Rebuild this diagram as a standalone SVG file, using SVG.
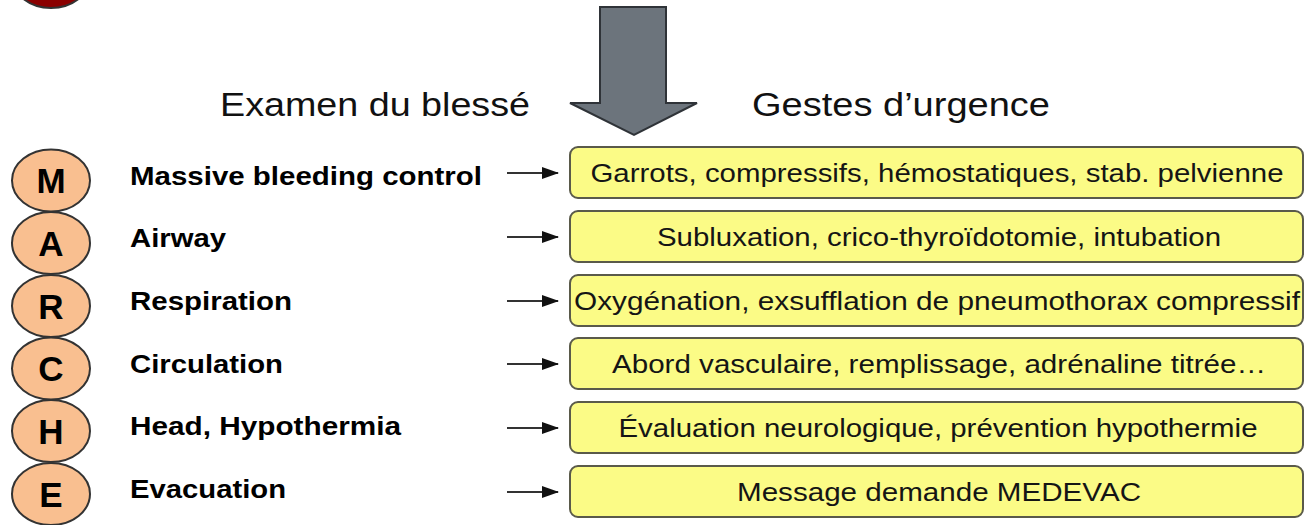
<svg xmlns="http://www.w3.org/2000/svg" width="1306" height="525" viewBox="0 0 1306 525">
<defs>
<style>
.lbl{font-family:"Liberation Sans",Arial,sans-serif;font-weight:bold;font-size:26px;fill:#000}
.let{font-family:"Liberation Sans",Arial,sans-serif;font-weight:bold;font-size:35px;fill:#000;text-anchor:middle}
.box{fill:#fbfb86;stroke:#5a5a4a;stroke-width:2}
.btx{font-family:"Liberation Sans",Arial,sans-serif;font-size:26px;fill:#151515;text-anchor:middle}
.hdr{font-family:"Liberation Sans",Arial,sans-serif;font-size:34px;fill:#111}
.circ{fill:#f9bf90;stroke:#333;stroke-width:2}
.conn{stroke:#333;stroke-width:2;fill:none;marker-end:url(#ah)}
</style>
<marker id="ah" viewBox="0 0 17 12" refX="16" refY="6" markerWidth="17" markerHeight="12" markerUnits="userSpaceOnUse" orient="auto"><path d="M0,0 L17,6 L0,12 z" fill="#111"/></marker>
</defs>
<rect width="1306" height="525" fill="#fff"/>
<g id="top-dot"><ellipse cx="51" cy="-23" rx="39" ry="31" fill="#8b0000" stroke="#333" stroke-width="2"/></g>
<g id="big-arrow"><path d="M600,7 L666,7 L666,103 L697,103 L634,135 L570,103 L600,103 Z" fill="#6c747c" stroke="#2f3338" stroke-width="2"/></g>
<g id="headers">
<text class="hdr" x="220" y="116" textLength="310" lengthAdjust="spacingAndGlyphs">Examen du blessé</text>
<text class="hdr" x="752" y="116" textLength="298" lengthAdjust="spacingAndGlyphs">Gestes d’urgence</text>
</g>
<g id="letters">
<g id="M"><ellipse class="circ" cx="51" cy="180.5" rx="39" ry="31"/><text class="let" x="51" y="193">M</text></g>
<g id="A"><ellipse class="circ" cx="51" cy="243" rx="39" ry="31"/><text class="let" x="51" y="256">A</text></g>
<g id="R"><ellipse class="circ" cx="51" cy="306" rx="39" ry="31"/><text class="let" x="51" y="319">R</text></g>
<g id="C"><ellipse class="circ" cx="51" cy="368.5" rx="39" ry="31"/><text class="let" x="51" y="381">C</text></g>
<g id="H"><ellipse class="circ" cx="51" cy="431" rx="39" ry="31"/><text class="let" x="51" y="444">H</text></g>
<g id="E"><ellipse class="circ" cx="51" cy="494" rx="39" ry="31"/><text class="let" x="51" y="507">E</text></g>
</g>
<g id="labels">
<text class="lbl" x="130" y="184.5" textLength="352" lengthAdjust="spacingAndGlyphs">Massive bleeding control</text>
<text class="lbl" x="130" y="247" textLength="96" lengthAdjust="spacingAndGlyphs">Airway</text>
<text class="lbl" x="130" y="310" textLength="162" lengthAdjust="spacingAndGlyphs">Respiration</text>
<text class="lbl" x="130" y="372.5" textLength="153" lengthAdjust="spacingAndGlyphs">Circulation</text>
<text class="lbl" x="130" y="435" textLength="271" lengthAdjust="spacingAndGlyphs">Head, Hypothermia</text>
<text class="lbl" x="130" y="498" textLength="156" lengthAdjust="spacingAndGlyphs">Evacuation</text>
</g>
<g id="connectors">
<line class="conn" x1="507" y1="173" x2="558" y2="173"/>
<line class="conn" x1="507" y1="237" x2="558" y2="237"/>
<line class="conn" x1="507" y1="301" x2="558" y2="301"/>
<line class="conn" x1="507" y1="364" x2="558" y2="364"/>
<line class="conn" x1="507" y1="428" x2="558" y2="428"/>
<line class="conn" x1="507" y1="492" x2="558" y2="492"/>
</g>
<g id="boxes">
<g id="b1"><rect class="box" x="570" y="147" width="733" height="51" rx="8"/><text class="btx" x="937" y="182" textLength="693" lengthAdjust="spacingAndGlyphs">Garrots, compressifs, hémostatiques, stab. pelvienne</text></g>
<g id="b2"><rect class="box" x="570" y="211" width="733" height="51" rx="8"/><text class="btx" x="939" y="246" textLength="564" lengthAdjust="spacingAndGlyphs">Subluxation, crico-thyroïdotomie, intubation</text></g>
<g id="b3"><rect class="box" x="570" y="275" width="733" height="51" rx="8"/><text class="btx" x="937" y="310" textLength="726" lengthAdjust="spacingAndGlyphs">Oxygénation, exsufflation de pneumothorax compressif</text></g>
<g id="b4"><rect class="box" x="570" y="338" width="733" height="51" rx="8"/><text class="btx" x="939" y="373" textLength="654" lengthAdjust="spacingAndGlyphs">Abord vasculaire, remplissage, adrénaline titrée…</text></g>
<g id="b5"><rect class="box" x="570" y="402" width="733" height="51" rx="8"/><text class="btx" x="938" y="437" textLength="639" lengthAdjust="spacingAndGlyphs">Évaluation neurologique, prévention hypothermie</text></g>
<g id="b6"><rect class="box" x="570" y="466" width="733" height="51" rx="8"/><text class="btx" x="939" y="501" textLength="404" lengthAdjust="spacingAndGlyphs">Message demande MEDEVAC</text></g>
</g>
</svg>
